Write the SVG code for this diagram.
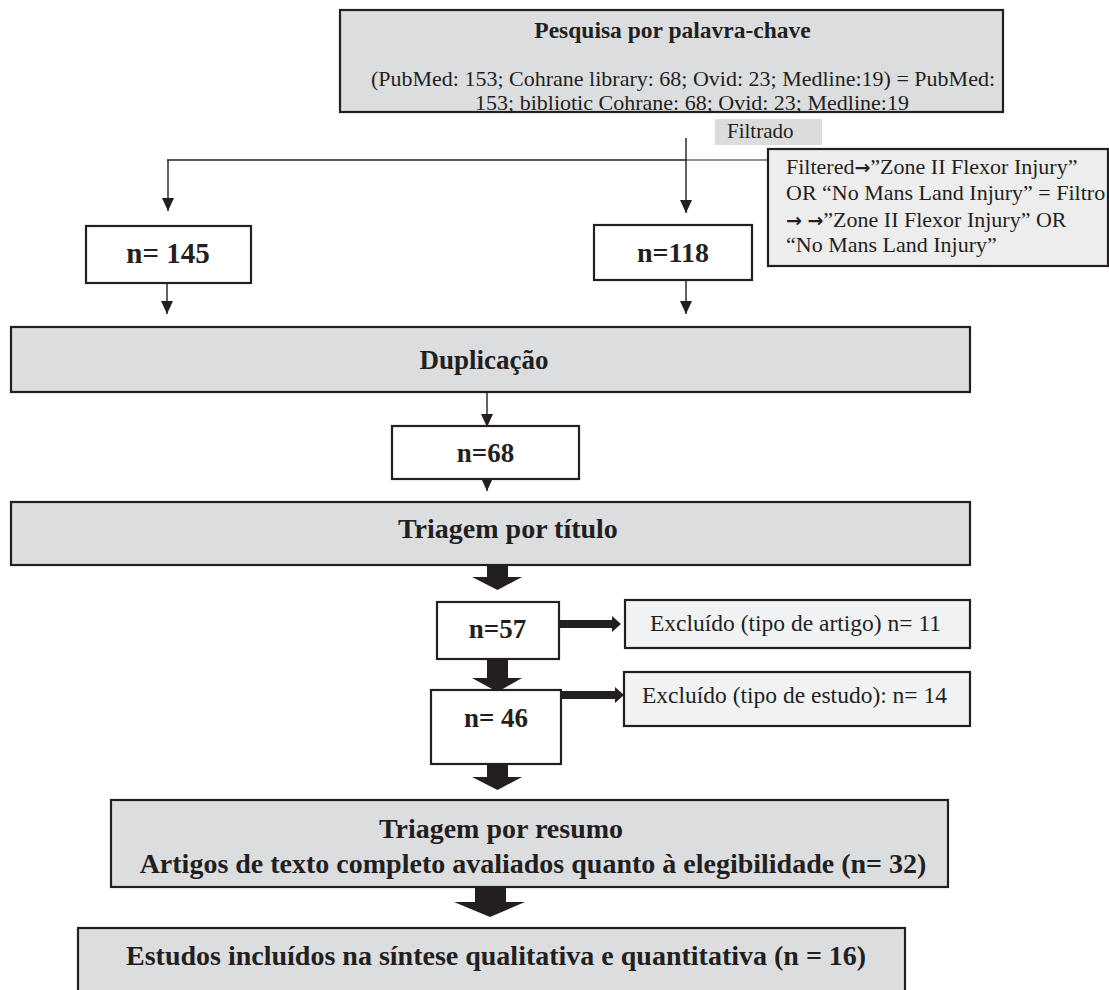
<svg xmlns="http://www.w3.org/2000/svg" width="1109" height="990" viewBox="0 0 1109 990">
<style>
.box{stroke:#231f20;stroke-width:2.2}
.g{fill:#dcdddf}
.w{fill:#ffffff}
.l{fill:#f1f2f4}
.f{fill:#ededed}
.tb{font-family:"Liberation Serif","Times New Roman",serif;font-weight:bold;fill:#231f20}
.tr{font-family:"Liberation Serif","Times New Roman",serif;fill:#231f20}
.ar{font-family:"DejaVu Sans",sans-serif;font-weight:bold}
.ln{stroke:#231f20;stroke-width:1.4;fill:none}
.blk{fill:#231f20}
</style>
<defs>
<marker id="ah" viewBox="0 0 13 12" refX="13" refY="6" markerWidth="13" markerHeight="12" markerUnits="userSpaceOnUse" orient="auto">
<path d="M0,0 L13,6 L0,12 z" fill="#231f20"/>
</marker>
</defs>
<rect width="1109" height="990" fill="#ffffff"/>

<g id="connectors">
<line class="ln" x1="167" y1="160" x2="686" y2="160"/>
<line x1="686" y1="160" x2="768" y2="160" stroke="#6d6e71" stroke-width="1.4"/>
<line class="ln" x1="168" y1="160" x2="168" y2="211" marker-end="url(#ah)"/>
<line class="ln" x1="686" y1="138" x2="686" y2="213" marker-end="url(#ah)"/>
<line class="ln" x1="167" y1="283" x2="167" y2="314" marker-end="url(#ah)"/>
<line class="ln" x1="686" y1="280" x2="686" y2="314" marker-end="url(#ah)"/>
<line class="ln" x1="487" y1="392" x2="487" y2="427" marker-end="url(#ah)"/>
<line class="ln" x1="487" y1="479" x2="487" y2="491" marker-end="url(#ah)"/>
<polygon class="blk" points="487,565 508,565 508,577 522,577 497.5,590 472,577 487,577"/>
<polygon class="blk" points="487,659 508,659 508,678 522,678 497.5,692 472,678 487,678"/>
<polygon class="blk" points="487,764 508,764 508,777 522,777 497.5,790 472,777 487,777"/>
<polygon class="blk" points="475,887 506,887 506,902 525,902 490,917 454,902 475,902"/>
<polygon class="blk" points="559,620 612,620 612,616 621,624 612,632 612,628 559,628"/>
<polygon class="blk" points="561,691 615,691 615,687 624,695 615,703 615,699 561,699"/>
</g>

<g id="n-search">
<rect class="box g" x="340" y="10" width="663" height="102"/>
<text class="tb" x="672.5" y="38" font-size="23.5" text-anchor="middle">Pesquisa por palavra-chave</text>
<text class="tr" x="683" y="86" font-size="22" text-anchor="middle">(PubMed: 153; Cohrane library: 68; Ovid: 23; Medline:19) = PubMed:</text>
<text class="tr" x="692" y="110" font-size="22" text-anchor="middle">153; bibliotic Cohrane: 68; Ovid: 23; Medline:19</text>
</g>

<g id="n-filtrado">
<rect x="715" y="119" width="107" height="26" fill="#dcdcdc"/>
<text class="tr" x="727" y="138" font-size="21">Filtrado</text>
</g>

<g id="n-filter">
<rect class="box f" x="768" y="149" width="340" height="117"/>
<text class="tr" x="786" y="174" font-size="22">Filtered<tspan class="ar" font-size="19">→</tspan>”Zone II Flexor Injury”</text>
<text class="tr" x="786" y="200" font-size="22">OR “No Mans Land Injury” = Filtro</text>
<text class="tr" x="786" y="227" font-size="22"><tspan class="ar" font-size="19">→</tspan> <tspan class="ar" font-size="19">→</tspan>”Zone II Flexor Injury” OR</text>
<text class="tr" x="786" y="252" font-size="22">“No Mans Land Injury”</text>
</g>

<g id="n-145">
<rect class="box w" x="86" y="226" width="165" height="57"/>
<text class="tb" x="168" y="263" font-size="29" text-anchor="middle">n= 145</text>
</g>

<g id="n-118">
<rect class="box w" x="594" y="225" width="158" height="55"/>
<text class="tb" x="673" y="262" font-size="28" text-anchor="middle">n=118</text>
</g>

<g id="n-dup">
<rect class="box g" x="11" y="327" width="959" height="65"/>
<text class="tb" x="484" y="369" font-size="27" text-anchor="middle">Duplicação</text>
</g>

<g id="n-68">
<rect class="box w" x="392" y="426" width="187" height="53"/>
<text class="tb" x="485.5" y="462" font-size="27" text-anchor="middle">n=68</text>
</g>

<g id="n-titulo">
<rect class="box g" x="11" y="502" width="959" height="63"/>
<text class="tb" x="398" y="538" font-size="28">Triagem por título</text>
</g>

<g id="n-57">
<rect class="box w" x="437" y="602" width="122" height="57"/>
<text class="tb" x="497.5" y="638" font-size="27" text-anchor="middle">n=57</text>
</g>

<g id="n-excl1">
<rect class="box l" x="625" y="600" width="345" height="48"/>
<text class="tr" x="650" y="631" font-size="23.5">Excluído (tipo de artigo) n= 11</text>
</g>

<g id="n-46">
<rect class="box w" x="431" y="690" width="130" height="74"/>
<text class="tb" x="496" y="727" font-size="27" text-anchor="middle">n= 46</text>
</g>

<g id="n-excl2">
<rect class="box l" x="624" y="672" width="346" height="54"/>
<text class="tr" x="642" y="703" font-size="23.5">Excluído (tipo de estudo): n= 14</text>
</g>

<g id="n-resumo">
<rect class="box g" x="111" y="800" width="837" height="87"/>
<text class="tb" x="501" y="838" font-size="28" text-anchor="middle">Triagem por resumo</text>
<text class="tb" x="533" y="873" font-size="28" text-anchor="middle">Artigos de texto completo avaliados quanto à elegibilidade (n= 32)</text>
</g>

<g id="n-estudos">
<rect class="box g" x="78" y="928" width="827" height="80"/>
<text class="tb" x="126" y="965" font-size="28">Estudos incluídos na síntese qualitativa e quantitativa (n = 16)</text>
</g>
</svg>
